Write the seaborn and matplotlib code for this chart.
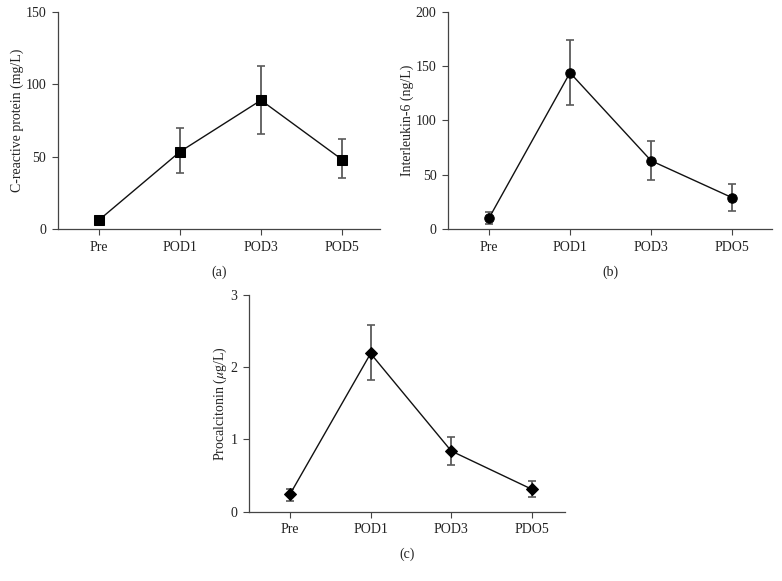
import numpy as np
import pandas as pd
import matplotlib
matplotlib.use("Agg")
import matplotlib.pyplot as plt
import seaborn as sns

# values
time_a = ["Pre", "POD1", "POD3", "POD5"]
time_bc = ["Pre", "POD1", "POD3", "PDO5"]

crp_mean = [6.2, 53.4, 89.0, 48.0]
crp_lo = [6.2, 38.4, 65.8, 35.0]
crp_hi = [6.2, 69.5, 112.5, 61.9]

il6_mean = [9.8, 144.0, 62.9, 28.8]
il6_lo = [4.3, 114.7, 45.0, 16.9]
il6_hi = [15.3, 174.0, 81.3, 41.7]

pct_mean = [0.24, 2.19, 0.84, 0.31]
pct_lo = [0.15, 1.82, 0.64, 0.20]
pct_hi = [0.32, 2.58, 1.04, 0.42]

sns.set_theme(style="ticks")
plt.rcParams["font.family"] = ["Liberation Serif", "DejaVu Serif"]
plt.rcParams["mathtext.fontset"] = "stix"

fig = plt.figure(figsize=(7.82, 5.81), dpi=100)

panels = [
    # rect, labels, mean, lo, hi, marker, msize, ylabel, ymax, yticks, xlim, caption
    ([0.0742, 0.6059, 0.4118, 0.3735], time_a, crp_mean, crp_lo, crp_hi, "s", 7.2,
     "C-reactive protein (mg/L)", 150, [0, 50, 100, 150], (-0.506, 3.47), "(a)"),
    ([0.5733, 0.6059, 0.4139, 0.3735], time_bc, il6_mean, il6_lo, il6_hi, "o", 6.8,
     "Interleukin-6 (ng/L)", 200, [0, 50, 100, 150, 200], (-0.5, 3.49), "(b)"),
    ([0.3188, 0.1193, 0.4037, 0.3730], time_bc, pct_mean, pct_lo, pct_hi, "D", 6.3,
     r"Procalcitonin ($\mu$g/L)", 3, [0, 1, 2, 3], (-0.504, 3.41), "(c)"),
]

for rect, labels, mean, lo, hi, mk, ms, ylab, ymax, yt, xl, cap in panels:
    ax = fig.add_axes(rect)
    df = pd.DataFrame({"pos": np.arange(len(labels)), "value": mean})
    yerr = [np.array(mean) - np.array(lo), np.array(hi) - np.array(mean)]
    ax.errorbar(df["pos"], df["value"], yerr=yerr, fmt="none", ecolor="#5a5a5a",
                elinewidth=1.3, capsize=3, capthick=1.2, zorder=2)
    sns.lineplot(data=df, x="pos", y="value", ax=ax, color="#111111", linewidth=1.0,
                 marker=mk, markersize=ms, markeredgecolor="black",
                 markerfacecolor="black", zorder=3)
    ax.set_xlim(*xl)
    ax.set_ylim(0, ymax)
    ax.set_xticks(df["pos"])
    ax.set_xticklabels(labels)
    ax.set_yticks(yt)
    ax.set_xlabel("")
    ax.set_ylabel(ylab, fontsize=10, color="#222222", labelpad=1)
    ax.tick_params(axis="both", labelsize=10, length=4.5, width=0.8,
                   colors="#444444", labelcolor="#222222", pad=4)
    for s in ["left", "bottom"]:
        ax.spines[s].set_linewidth(0.9)
        ax.spines[s].set_color("#444444")
    sns.despine(ax=ax)
    x0, y0, w, h = rect
    fig.text(x0 + w / 2, y0 - 0.074, cap, ha="center", va="center",
             fontsize=10, color="#222222")

fig.savefig("out.png", dpi=100)
